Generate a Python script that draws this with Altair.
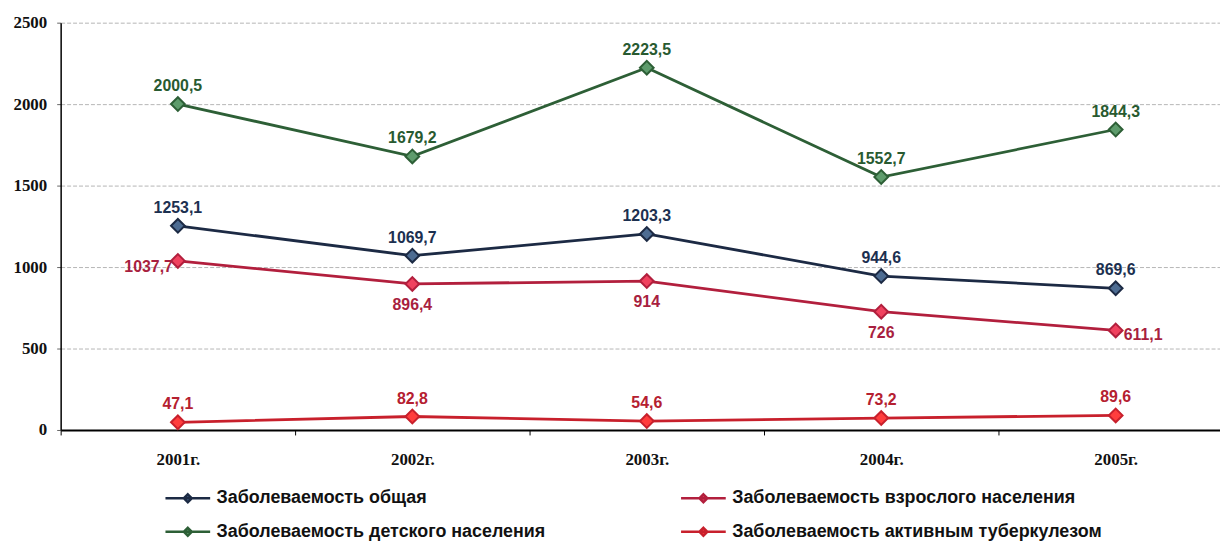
import altair as alt
import pandas as pd

years = ["2001", "2002", "2003", "2004", "2005"]
series_names = [
    "Заболеваемость общая",
    "Заболеваемость детского  населения",
    "Заболеваемость взрослого населения",
    "Заболеваемость активным туберкулезом",
]
general = [1253.1, 1069.7, 1203.3, 944.6, 869.6]
child = [2000.5, 1679.2, 2223.5, 1552.7, 1844.3]
adult = [1037.7, 896.4, 914, 726, 611.1]
tb = [47.1, 82.8, 54.6, 73.2, 89.6]

line_colors = ["#1c2a44", "#2d5f36", "#b21f3d", "#c8202c"]
fill_colors = ["#4d6c92", "#5e9c6c", "#f0425f", "#ff3d3d"]
text_colors = ["#1c3050", "#285a30", "#a81f40", "#b52030"]

rows = []
for name, vals in zip(series_names, [general, child, adult, tb]):
    for y, v in zip(years, vals):
        rows.append({"series": name, "year": y, "value": v,
                     "label": f"{v:g}".replace(".", ",")})
df = pd.DataFrame(rows)

xscale = alt.Scale(type="band", domain=years, range=[0, 1180],
                   paddingInner=0, paddingOuter=0)
yscale = alt.Scale(domain=[0, 2500], nice=False)
col_scale = alt.Scale(domain=series_names, range=line_colors)
fill_scale = alt.Scale(domain=series_names, range=fill_colors)
text_scale = alt.Scale(domain=series_names, range=text_colors)

x_enc = alt.X("year:O", scale=xscale, title=None,
              axis=alt.Axis(labelExpr="isValid(datum.value) ? datum.value + 'г.' : ''",
                            tickBand="extent",
                            labelAngle=0, labelOverlap=False,
                            grid=False, domainColor="#000000", domainWidth=2,
                            tickColor="#000000", tickSize=5, labelPadding=17,
                            labelFont="Liberation Serif", labelFontSize=17,
                            labelFontWeight="bold", labelColor="#111111"))
y_enc = alt.Y("value:Q", scale=yscale, title=None,
              axis=alt.Axis(values=[0, 500, 1000, 1500, 2000, 2500], format="d",
                            grid=True, gridColor="#b5b5b5", gridDash=[4, 2],
                            gridWidth=1, domainColor="#000000", domainWidth=1.5,
                            tickColor="#666666", tickSize=4, labelPadding=10,
                            labelFont="Liberation Serif", labelFontSize=17,
                            labelFontWeight="bold", labelColor="#111111"))

legend = alt.Legend(
    title=None, orient="none", legendX=116.5, legendY=467, columns=2,
    symbolType="M-2.25,0L2.25,0M0,-0.4L0.4,0L0,0.4L-0.4,0Z",
    symbolSize=400, symbolStrokeWidth=2.5, labelOffset=17.5,
    columnPadding=126, rowPadding=13, labelLimit=500,
    labelFont="Liberation Sans", labelFontSize=18, labelFontWeight="bold",
    labelColor="#111111",
)

base = alt.Chart(df)

lines = base.mark_line(strokeWidth=2.8).encode(
    x=x_enc, y=y_enc,
    color=alt.Color("series:N", scale=col_scale, legend=None),
)

points = base.mark_point(shape="diamond", filled=True, size=190, strokeWidth=2,
                         opacity=1).encode(
    x="year:O", y="value:Q",
    fill=alt.Fill("series:N", scale=fill_scale, legend=legend, sort=series_names),
    stroke=alt.Stroke("series:N", scale=col_scale, legend=legend, sort=series_names),
)

def text_layer(flt, **kw):
    return base.transform_filter(flt).mark_text(
        font="Liberation Sans", fontSize=16, fontWeight="bold", **kw
    ).encode(
        x="year:O", y="value:Q", text="label:N",
        color=alt.Color("series:N", scale=text_scale, legend=None),
    )

s_adult = series_names[2]
above = text_layer(f"datum.series != '{s_adult}'", dy=-18, baseline="middle")
adult_left = text_layer(f"datum.series == '{s_adult}' && datum.year == '2001'",
                        dx=-5, dy=6, align="right", baseline="middle")
adult_below = text_layer(f"datum.series == '{s_adult}' && datum.year != '2001' && datum.year != '2005'",
                         dy=21, baseline="middle")
adult_right = text_layer(f"datum.series == '{s_adult}' && datum.year == '2005'",
                         dx=8, dy=5, align="left", baseline="middle")

chart = alt.layer(lines, points, above, adult_left, adult_below, adult_right).resolve_scale(
    color="independent"
).properties(
    width=1167, height=410,
    autosize=alt.AutoSizeParams(type="none"),
    padding={"left": 53, "top": 13, "right": 0, "bottom": 113},
    background="#ffffff",
).configure_view(stroke=None)

chart.save("out.html", embed_options={"renderer": "svg", "actions": False})
